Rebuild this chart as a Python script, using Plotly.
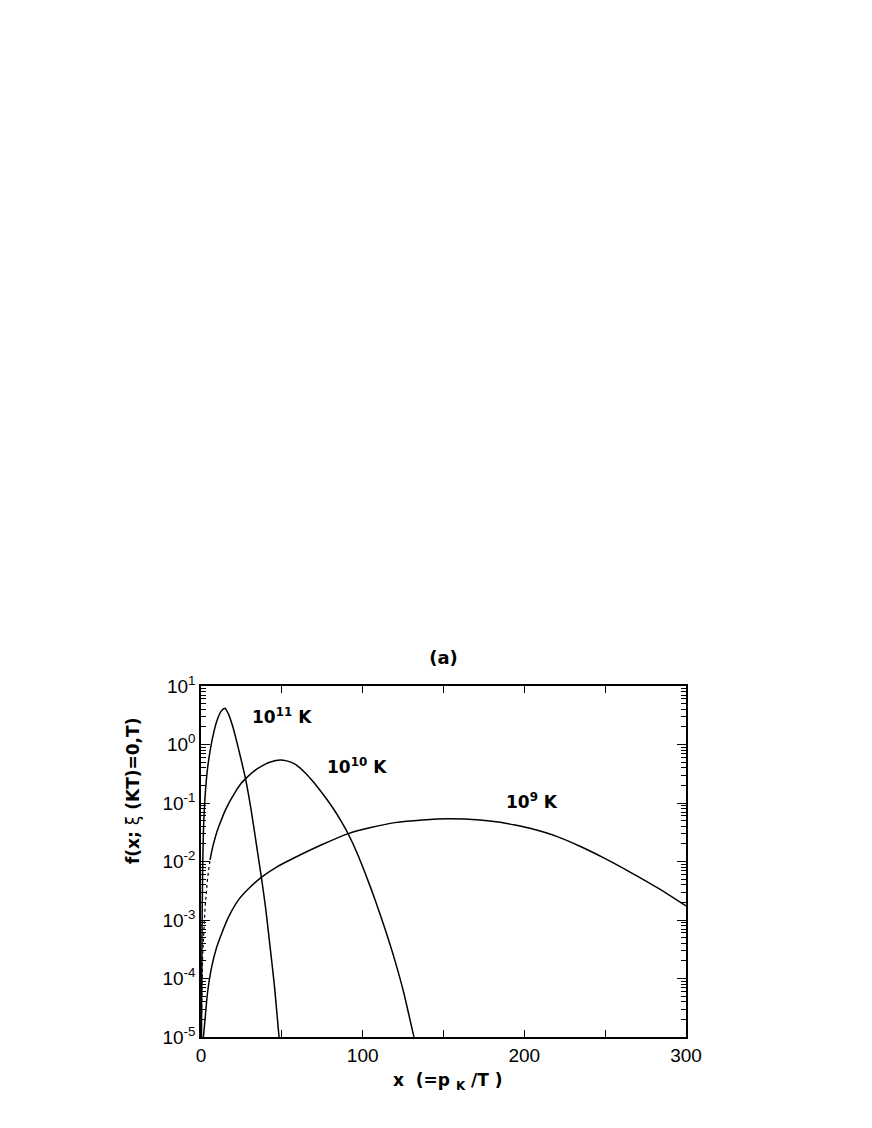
import math
import plotly.graph_objects as go

# ---- data ----
x_1e11 = [0.3, 0.6, 1.0, 1.5, 2.5, 4.0, 6.0, 8.0, 10.0, 12.5, 14.8, 17.0, 19.5, 22.0,
          24.5, 27.5, 31.0, 34.0, 37.5, 40.0, 42.7, 45.5, 48.0, 48.3]
y_1e11 = [1.0e-5, 5.0e-4, 6.3e-3, 3.2e-2, 1.26e-1, 3.8e-1, 8.9e-1, 1.66, 2.63, 3.72, 4.17,
          3.31, 2.09, 1.15, 6.0e-1, 2.63e-1, 7.6e-2, 2.19e-2, 5.0e-3, 1.58e-3, 3.55e-4,
          7.1e-5, 1.2e-5, 1.0e-5]

x_1e10_dot = [0.35, 1.0, 2.5, 4.0, 5.6]
y_1e10_dot = [2.5e-5, 2.5e-4, 1.58e-3, 5.0e-3, 1.07e-2]
x_1e10 = [5.6, 7.0, 8.5, 10.0, 12.0, 14.0, 16.9, 21.0, 25.0, 28.9, 33.0, 37.5, 43.0, 49.0,
          53.0, 57.0, 61.0, 65.0, 69.0, 73.0, 77.7, 82.0, 86.5, 91.1, 96.0, 102.5, 107.6,
          114.0, 120.0, 125.5, 131.3, 131.8]
y_1e10 = [1.07e-2, 1.66e-2, 2.4e-2, 3.31e-2, 4.68e-2, 6.46e-2, 9.55e-2, 1.51e-1, 2.19e-1,
          2.82e-1, 3.55e-1, 4.27e-1, 5.01e-1, 5.43e-1, 5.25e-1, 4.79e-1, 4.03e-1, 3.16e-1,
          2.37e-1, 1.74e-1, 1.17e-1, 7.9e-2, 5.0e-2, 2.95e-2, 1.51e-2, 5.4e-3, 2.24e-3,
          6.8e-4, 2.0e-4, 5.6e-5, 1.12e-5, 1.0e-5]

x_1e9 = [1.5, 2.5, 4.0, 6.6, 9.5, 12.8, 17.0, 23.1, 30.0, 37.5, 47.0, 58.1, 75.0, 91.1,
         105.0, 120.0, 137.0, 153.0, 172.6, 185.0, 194.2, 203.5, 220.0, 234.4, 250.0,
         265.4, 283.0, 300.0]
y_1e9 = [1.0e-5, 2.0e-5, 5.6e-5, 1.58e-4, 3.3e-4, 5.9e-4, 1.12e-3, 2.19e-3, 3.55e-3,
         5.4e-3, 8.1e-3, 1.17e-2, 1.95e-2, 3.0e-2, 3.8e-2, 4.62e-2, 5.13e-2, 5.37e-2,
         5.13e-2, 4.68e-2, 4.2e-2, 3.7e-2, 2.69e-2, 1.82e-2, 1.12e-2, 6.6e-3, 3.47e-3,
         1.74e-3]

labels = ["10<sup>11</sup> K", "10<sup>10</sup> K", "10<sup>9</sup> K"]
label_x = [50.1, 96.5, 204.7]
label_y = [3.07, 0.427, 0.108]

x_tickvals = [0, 50, 100, 150, 200, 250, 300]
x_ticktext = ["0", "", "100", "", "200", "", "300"]
y_tickvals = [1e-5, 1e-4, 1e-3, 1e-2, 1e-1, 1e0, 1e1]
y_ticktext = ["10<sup>-5</sup>", "10<sup>-4</sup>", "10<sup>-3</sup>", "10<sup>-2</sup>",
              "10<sup>-1</sup>", "10<sup>0</sup>", "10<sup>1</sup>"]
y_minor = [m * d for d in [1e-5, 1e-4, 1e-3, 1e-2, 1e-1, 1e0] for m in range(2, 10)]

TICKFONT = "Liberation Sans, Arial, Helvetica, sans-serif"
BOLDFONT = "DejaVu Sans, Verdana, sans-serif"
line = dict(color="black", width=1.5, shape="spline", smoothing=0.6)

fig = go.Figure()
fig.add_trace(go.Scatter(x=x_1e11, y=y_1e11, mode="lines", line=line, showlegend=False))
fig.add_trace(go.Scatter(x=x_1e10_dot, y=y_1e10_dot, mode="lines",
                         line=dict(color="black", width=1.2, dash="dot"), showlegend=False))
fig.add_trace(go.Scatter(x=x_1e10, y=y_1e10, mode="lines", line=line, showlegend=False))
fig.add_trace(go.Scatter(x=x_1e9, y=y_1e9, mode="lines", line=line, showlegend=False))

for t, lx, ly in zip(labels, label_x, label_y):
    fig.add_annotation(x=lx, y=math.log10(ly), xref="x", yref="y",
                       xanchor="center", yanchor="middle",
                       text="<b>" + t + "</b>", showarrow=False,
                       font=dict(family=BOLDFONT, size=17, color="black"))

fig.add_annotation(x=-0.140, y=0.701, xref="paper", yref="paper", textangle=-90,
                   xanchor="center", yanchor="middle",
                   text="<b>f(x; </b>ξ<b> (KT)=0,T)</b>", showarrow=False,
                   font=dict(family=BOLDFONT, size=17, color="black"))
fig.add_annotation(x=0.509, y=-0.128, xref="paper", yref="paper",
                   xanchor="center", yanchor="middle",
                   text="<b>x \u00a0(=p <sub>K</sub> /T )</b>", showarrow=False,
                   font=dict(family=BOLDFONT, size=17, color="black"))

fig.update_layout(
    width=864, height=1120,
    margin=dict(l=193, r=186, t=678, b=91),
    paper_bgcolor="white", plot_bgcolor="white",
    title=dict(text="<b>(a)</b>", xref="paper", x=0.5, xanchor="center",
               y=1 - 650 / 1120, yanchor="middle",
               font=dict(family=BOLDFONT, size=18, color="black")),
    font=dict(family=TICKFONT, color="black"),
    xaxis=dict(range=[0, 300], tickmode="array", tickvals=x_tickvals, ticktext=x_ticktext,
               ticks="inside", ticklen=7, tickwidth=1.3, tickcolor="black",
               showline=True, linecolor="black", linewidth=1.5, mirror="ticks",
               showgrid=False, zeroline=False, tickfont=dict(size=19, family=TICKFONT)),
    yaxis=dict(type="log", range=[-5, 1], tickmode="array", tickvals=y_tickvals,
               ticktext=y_ticktext, ticks="inside", ticklen=9, tickwidth=1.3,
               tickcolor="black", showline=True, linecolor="black", linewidth=1.5,
               mirror="ticks", showgrid=False, zeroline=False,
               tickfont=dict(size=19, family=TICKFONT),
               minor=dict(tickmode="array", tickvals=y_minor, ticks="inside", ticklen=5,
                          tickwidth=1, tickcolor="black", showgrid=False)),
)

fig.write_html("out.html")
